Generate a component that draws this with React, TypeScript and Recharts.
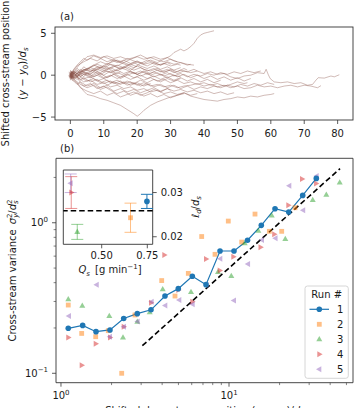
import React from 'react';
import {
  Line,
  XAxis,
  YAxis,
  ComposedChart,
  Scatter,
  ReferenceArea,
  ReferenceLine,
  ErrorBar,
} from 'recharts';

const FONT = '"DejaVu Sans", sans-serif';
const INK = '#1a1a1a';
const FRAME = '#333333';
const BLUE = '#1f77b4';
const ORANGE = '#ff7f0e';
const GREEN = '#2ca02c';
const RED = '#d62728';
const PURPLE = '#9467bd';
const BROWN = '#8c564b';

type Pt = [number, number];

// ---- panel (a): individual grain trajectories, (x - x0)/ds vs (y - y0)/ds ----
const track01: Pt[] = [[-0.3,0.2],[0.5,-0.3],[1,0.3],[2,-0.2],[4,0.4],[6,0.1],[8,0.7],[10,0.4],[12,0.9],[14,0.5],[16,1.0],[18,0.6],[20,1.1],[22,0.7],[24,0.5],[26,0.8],[28,0.4],[30,0.6],[32,0.2],[34,0.5],[36,0.3],[38,0.5],[40,0.2],[42,0.4],[44,0.1],[46,0.2],[48,-0.2],[50,-0.4],[52,-0.1],[54,0.0],[56,0.3],[58,0.2],[58.6,0.7],[59.2,0.1],[59.8,-0.4],[61,-0.8],[63,-0.9],[65,-0.8],[67,-1.0],[69,-0.9],[71,-1.2],[72.5,-1.1],[73.5,-0.6],[74.2,-0.3],[76,-0.35],[78,-0.1],[79,-0.2],[80.5,0.05]];
const track02: Pt[] = [[0,0.4],[0.6,-0.2],[1,-0.3],[2,0.1],[4,-0.4],[6,-0.2],[8,-0.7],[10,-0.4],[12,-0.9],[14,-0.6],[16,-1.0],[18,-0.8],[20,-1.2],[22,-0.9],[24,-1.3],[26,-1.1],[28,-1.4],[30,-1.2],[32,-1.5],[34,-1.3],[36,-1.2],[38,-1.0],[40,-1.3],[42,-1.1],[44,-1.4],[46,-1.2],[48,-1.5],[50,-1.3],[52,-1.6],[54,-1.5],[56,-1.2],[58,-1.4],[60,-1.3],[62,-1.5],[64,-1.3],[66,-1.2],[68,-1.4],[70,-1.2],[72,-1.3],[74,-1.5],[75,-1.25]];
const track03: Pt[] = [[0,-0.3],[0.5,0.1],[1,-0.4],[2,-0.2],[4,-0.8],[6,-0.6],[8,-1.1],[10,-0.9],[12,-1.4],[14,-1.2],[16,-1.6],[18,-1.4],[20,-1.8],[22,-1.6],[24,-2.0],[26,-1.8],[28,-2.2],[30,-2.0],[32,-2.3],[34,-2.1],[36,-2.5],[38,-2.7],[40,-2.9],[42,-3.0],[44,-3.1],[46,-2.9],[48,-2.8],[50,-2.6],[52,-2.7],[54,-2.5],[56,-2.6],[58,-2.4],[60,-2.3],[61,-2.2]];
const track04: Pt[] = [[-0.4,-0.2],[0.3,0.3],[1,0.2],[2,-0.1],[4,0.3],[6,-0.2],[8,0.2],[10,-0.3],[12,0.0],[14,-0.4],[16,-0.1],[18,-0.5],[20,-0.2],[22,-0.6],[24,-0.3],[26,-0.7],[28,-0.5],[30,-0.9],[32,-0.6],[34,-1.0],[36,-0.8],[38,-1.1],[40,-0.9],[42,-1.2],[44,-1.0],[46,-1.3],[48,-1.1],[50,-0.8],[52,-1.0],[53,-0.9]];
const track05: Pt[] = [[0,-0.2],[0.5,0.3],[1,0.4],[2,0.2],[4,0.7],[6,0.5],[8,1.0],[10,0.8],[12,1.3],[14,1.1],[16,1.5],[18,1.2],[20,1.6],[22,1.4],[24,1.8],[26,1.5],[28,1.9],[30,2.3],[31,2.7],[32,2.9],[33,3.1],[34,2.9],[35,3.1],[36,3.4],[37,3.8],[38,4.4],[39,4.8],[40,5.0],[41,5.1],[42,5.2],[43,5.3]];
const track06: Pt[] = [[0,0.6],[0.5,0.2],[1,0.5],[2,0.9],[3,1.4],[4,1.8],[5,2.2],[7,2.4],[9,2.1],[11,2.3],[13,2.0],[15,2.2],[17,1.9],[19,2.1],[21,2.4],[23,2.0],[25,2.2],[27,1.9],[29,2.1],[31,1.7],[33,1.5],[35,1.3],[37,1.2]];
const track07: Pt[] = [[0,0.2],[0.5,-0.3],[1,-0.5],[2,-0.9],[3,-1.4],[4,-1.9],[5,-2.3],[7,-2.5],[9,-2.8],[11,-3.0],[13,-3.3],[15,-3.6],[17,-4.1],[19,-4.6],[20,-4.9],[21,-4.6],[22,-4.2],[24,-3.6],[26,-3.2],[28,-2.9],[30,-2.6],[32,-2.4],[34,-2.2]];
const track08: Pt[] = [[-0.2,-0.4],[0.4,0.2],[1,0.6],[2,1.1],[4,1.6],[6,2.0],[8,1.7],[10,2.2],[12,1.9],[14,1.5],[16,1.8],[18,1.4],[20,1.7],[22,1.3],[24,1.5],[26,1.2],[28,1.4],[30,1.1],[32,1.3],[33,1.2]];
const track09: Pt[] = [[0,0.1],[0.5,0.5],[1,-0.3],[2,0.2],[4,0.5],[6,0.9],[8,1.3],[10,1.0],[12,1.5],[14,1.8],[16,1.5],[18,1.9],[20,2.2],[22,1.9],[24,2.1],[26,1.8],[28,1.6],[30,1.9],[32,1.6]];
const track10: Pt[] = [[-0.5,0.0],[0.2,-0.4],[1,0.3],[2,-0.2],[3,0.4],[5,0.8],[7,0.5],[9,1.0],[11,0.7],[13,1.1],[15,0.8],[17,1.2],[19,0.9],[21,1.4],[23,1.1],[25,1.5],[27,1.2],[29,1.6],[31,1.3],[33,1.5],[35,1.2],[36,1.3]];
const track11: Pt[] = [[0,-0.5],[0.5,0.1],[1,-0.2],[2,0.3],[3,-0.1],[5,0.3],[7,-0.2],[9,0.2],[11,-0.3],[13,0.1],[15,-0.4],[17,0.0],[19,0.3],[21,-0.1],[23,0.2],[25,-0.2],[27,0.1],[29,-0.3],[31,0.0],[33,-0.2]];
const track12: Pt[] = [[0,0.3],[0.5,-0.1],[1,-0.4],[2,-0.8],[3,-1.1],[5,-1.5],[7,-1.2],[9,-1.7],[11,-1.4],[13,-1.9],[15,-1.6],[17,-2.0],[19,-1.7],[21,-2.1],[23,-1.8],[25,-1.5],[27,-1.9],[29,-1.6],[31,-1.9],[33,-1.7],[35,-2.0],[37,-1.8],[39,-2.1],[41,-1.9],[43,-2.2],[45,-2.0],[47,-2.3],[49,-2.1]];
const track13: Pt[] = [[-0.3,-0.3],[0.4,0.4],[1,0.2],[2,0.6],[3,0.3],[5,0.8],[7,1.2],[9,0.9],[11,1.4],[13,1.1],[15,0.7],[17,1.0],[19,0.6],[21,0.9],[23,0.5],[25,0.8],[27,0.4],[29,0.7],[31,0.3],[33,0.6],[35,0.4],[37,0.7],[38,0.5]];
const track14: Pt[] = [[0,0.0],[0.5,-0.5],[1,-0.6],[2,-1.0],[3,-1.5],[5,-1.9],[7,-2.2],[9,-1.9],[11,-2.4],[13,-2.1],[15,-2.6],[17,-2.3],[19,-2.0],[21,-2.4],[23,-2.1],[25,-1.7],[27,-2.0],[29,-1.6],[30,-1.8]];
const track15: Pt[] = [[0,0.5],[0.5,0.0],[1,0.4],[2,0.1],[3,0.5],[5,0.2],[7,0.6],[9,0.3],[11,0.8],[13,0.5],[15,0.9],[17,0.6],[19,0.2],[21,0.5],[23,0.1],[25,0.4],[27,0.0],[29,0.3],[31,-0.1],[33,0.2],[35,-0.2],[37,0.1],[39,-0.1],[41,0.2],[43,0.0],[45,0.3],[47,0.1],[49,0.4],[51,0.2],[53,0.5],[55,0.3],[57,0.5]];
const track16: Pt[] = [[0,-0.6],[0.5,-0.1],[1,-0.2],[2,-0.5],[3,-0.3],[5,-0.7],[7,-0.4],[9,-0.9],[11,-0.6],[13,-1.0],[15,-0.7],[17,-1.2],[19,-0.9],[21,-1.3],[23,-1.0],[25,-1.4],[27,-1.1],[29,-1.5],[31,-1.2],[33,-1.6],[35,-1.3],[37,-1.7],[39,-1.4],[41,-1.6],[43,-1.3],[45,-1.5],[47,-1.2],[49,-1.4],[51,-1.1],[53,-1.3],[55,-1.0],[57,-1.2],[59,-0.9],[61,-1.1]];
const track17: Pt[] = [[-0.4,0.4],[0.3,-0.2],[1,0.5],[2,0.2],[3,0.7],[4,0.4],[6,0.9],[8,0.6],[10,1.1],[12,0.8],[14,1.2],[16,0.9],[18,1.3],[20,1.0]];
const track18: Pt[] = [[0,0.2],[0.5,-0.4],[1,-0.3],[2,-0.1],[3,-0.6],[4,-0.3],[6,-0.8],[8,-0.5],[10,-1.0],[12,-0.7],[14,-1.1],[16,-0.8],[18,-1.2],[20,-0.9],[22,-1.3],[24,-1.0]];
const track19: Pt[] = [[0,0],[0.5,0.3],[1,-0.1],[2,0.2],[3,-0.2],[4,0.1],[6,-0.3],[8,0.0],[10,-0.4],[12,-0.1],[14,0.3],[16,0.0],[18,0.4],[20,0.1],[22,0.5],[24,0.2],[26,0.6],[28,0.3],[30,0.7],[32,0.4],[34,0.8],[35,0.6]];
const track20: Pt[] = [[0,0],[0.5,-0.3],[1,0.2],[2,-0.1],[3,0.3],[5,0.0],[7,0.4],[9,0.1],[11,0.5],[13,0.2],[15,-0.2],[17,0.1],[19,-0.3],[21,0.0],[23,-0.4],[25,-0.1],[27,-0.5],[29,-0.2],[31,-0.6],[33,-0.3],[35,-0.7],[37,-0.4],[39,-0.8],[41,-0.5],[43,-0.9],[45,-0.6]];
const track21: Pt[] = [[0,-0.1],[0.5,0.4],[1,0.7],[2,1.2],[3,1.6],[4,2.0],[5,1.8],[7,2.3],[9,2.0],[11,1.6],[13,1.9],[15,1.5],[17,1.2],[19,1.5],[21,1.1],[23,0.8],[25,1.1],[27,0.7],[29,1.0],[31,0.6],[33,0.9]];
const track22: Pt[] = [[-0.3,0.1],[0.5,-0.6],[1,-0.7],[2,-1.1],[3,-0.8],[5,-1.3],[7,-1.0],[9,-1.5],[11,-1.2],[13,-0.8],[15,-1.1],[17,-0.7],[19,-1.0],[21,-0.6],[23,-0.9],[25,-0.5],[27,-0.8],[29,-0.4],[31,-0.7],[33,-0.4]];
const track23: Pt[] = [[0,0],[0.5,0.4],[1,0.1],[2,0.5],[3,0.2],[4,0.7],[6,0.4],[8,0.9],[10,0.6],[12,0.3],[14,0.6],[16,0.2],[18,0.5],[20,0.1],[22,0.4],[24,0.0],[26,0.3],[28,-0.1],[30,0.2],[32,-0.2],[34,0.1],[36,-0.3],[38,0.0],[40,-0.4],[42,-0.1],[44,-0.5],[46,-0.2],[48,-0.6],[50,-0.3],[52,-0.7],[54,-0.4]];
const track24: Pt[] = [[0,0],[0.5,-0.4],[1,0.1],[2,-0.3],[3,0.2],[4,-0.2],[5,0.3],[6,-0.1],[8,0.4],[10,0.0],[12,0.5],[14,0.2],[15,0.4]];
const track25: Pt[] = [[0,0.3],[0.5,-0.2],[1,-0.5],[2,-0.2],[3,-0.9],[4,-1.3],[6,-1.0],[8,-1.6],[10,-1.3],[12,-1.8],[14,-2.2],[16,-1.9],[18,-2.4],[20,-2.1],[22,-2.5],[24,-2.2],[26,-2.6],[28,-2.3],[30,-2.7],[32,-2.4],[34,-2.1],[36,-2.4],[38,-2.2]];
const track26: Pt[] = [[0,-0.3],[0.5,0.1],[1,0.3],[2,0.8],[3,0.5],[4,1.0],[5,0.7],[7,1.2],[9,1.6],[11,1.3],[13,1.8],[15,1.5],[17,2.0],[19,1.7],[21,1.4],[23,1.8],[25,1.5],[27,1.2],[29,1.5],[30,1.3]];

const tracks: Pt[][] = [
  track01, track02, track03, track04, track05, track06, track07, track08, track09,
  track10, track11, track12, track13, track14, track15, track16, track17, track18,
  track19, track20, track21, track22, track23, track24, track25, track26,
];

const xTicksA = [0, 10, 20, 30, 40, 50, 60, 70, 80];
const yTicksA = [-5, 0, 5];

// ---- panel (b): cross-stream variance vs downstream distance, five runs ----
const run1: Pt[] = [[1.105,0.199],[1.346,0.208],[1.616,0.189],[1.957,0.194],[2.362,0.231],[2.846,0.249],[3.434,0.264],[4.159,0.326],[4.992,0.365],[6.048,0.441],[7.297,0.388],[8.842,0.649],[10.71,0.649],[12.89,0.765],[15.57,0.961],[18.79,1.239],[22.67,1.178],[27.46,1.52],[33.09,1.971]];
const run2: Pt[] = [[1.105,0.284],[1.328,0.184],[1.609,0.175],[1.912,0.192],[2.298,0.1],[2.757,0.244],[3.976,0.413],[4.771,0.326],[5.725,0.461],[6.878,0.81],[8.255,0.617],[9.904,1.026],[11.9,0.744],[14.28,1.142],[17.38,0.877],[20.59,0.877],[24.71,1.258]];
const run3: Pt[] = [[1.105,0.31],[1.339,0.281],[1.939,0.24],[2.339,0.173],[2.846,0.22],[3.373,0.254],[4.031,0.361],[5.941,0.347],[8.6,0.471],[10.32,0.443],[12.4,0.73],[14.94,0.885],[17.96,1.116],[21.63,0.779],[31.5,1.415],[37.95,1.535],[45.6,1.849]];
const run4: Pt[] = [[1.105,0.173],[1.328,0.113],[1.609,0.157],[1.957,0.173],[2.362,0.204],[3.434,0.294],[4.12,0.61],[4.992,0.357],[6.048,0.299],[7.297,0.574],[8.805,0.482],[10.61,0.594],[15.4,0.687],[18.58,0.838],[22.54,1.307],[27.2,1.951],[32.96,1.821]];
const run5: Pt[] = [[1.116,0.24],[1.632,0.388],[1.957,0.175],[2.371,0.204],[2.861,0.221],[3.467,0.299],[4.177,0.282],[5.061,0.307],[6.081,0.287],[7.368,0.386],[8.879,0.577],[10.71,0.304],[12.98,0.532],[15.72,0.768],[18.92,0.788],[22.86,1.758],[27.65,1.211],[33.27,2.048]];

// diffusive reference: variance = 0.05 * distance
const diffusiveLine: Pt[] = [[3.05, 0.1525], [45.8, 2.29]];

const xTicksB = [1, 2, 3, 4, 5, 6, 7, 8, 9, 10, 20, 30, 40, 50];
const yTicksB = [0.1, 0.2, 0.3, 0.4, 0.5, 0.6, 0.7, 0.8, 0.9, 1, 2];

// ---- inset: diffusion length vs sediment feed rate ----
const insetQs = [0.748, 0.658, 0.366, 0.333, 0.33];
const insetLd = [0.028, 0.0243, 0.0211, 0.03, 0.0321];
const insetErr = [0.0016, 0.0033, 0.0017, 0.0036, 0.0021];
const insetMean = 0.0259;
const xTicksInset = [0.5, 0.75];
const yTicksInset = [0.02, 0.03];

const runLabels = ['1', '2', '3', '4', '5'];

const toXY = (pts: Pt[]) => pts.map(([x, y]) => ({ x, y }));

// ---- markers ----
type MarkerKind = 'circle' | 'square' | 'up' | 'right' | 'left';
function Marker({ kind, cx, cy, color, opacity }: { kind: MarkerKind; cx: number; cy: number; color: string; opacity: number }) {
  if (kind === 'circle') return <circle cx={cx} cy={cy} r={2.8} fill={color} fillOpacity={opacity} />;
  if (kind === 'square') return <rect x={cx - 2.4} y={cy - 2.4} width={4.8} height={4.8} fill={color} fillOpacity={opacity} />;
  let pts = '';
  if (kind === 'up') pts = `${cx},${cy - 3.3} ${cx - 3},${cy + 2} ${cx + 3},${cy + 2}`;
  if (kind === 'right') pts = `${cx + 3.3},${cy} ${cx - 2},${cy - 3} ${cx - 2},${cy + 3}`;
  if (kind === 'left') pts = `${cx - 3.3},${cy} ${cx + 2},${cy - 3} ${cx + 2},${cy + 3}`;
  return <polygon points={pts} fill={color} fillOpacity={opacity} />;
}

const runStyles: { color: string; kind: MarkerKind; opacity: number }[] = [
  { color: BLUE, kind: 'circle', opacity: 1 },
  { color: ORANGE, kind: 'square', opacity: 0.5 },
  { color: GREEN, kind: 'up', opacity: 0.5 },
  { color: RED, kind: 'right', opacity: 0.5 },
  { color: PURPLE, kind: 'left', opacity: 0.5 },
];

const shapeFor = (i: number) => (p: any) => (
  <Marker kind={runStyles[i].kind} cx={p.cx} cy={p.cy} color={runStyles[i].color} opacity={runStyles[i].opacity} />
);

// ---- ticks ----
const tickText = { fontFamily: FONT, fontSize: 10, fill: INK };
const fmtSigned = (v: number) => (v < 0 ? `\u2212${Math.abs(v)}` : `${v}`);
const isDecade = (v: number) => Math.abs(Math.log10(v) - Math.round(Math.log10(v))) < 1e-9;

function LinXTick(props: any) {
  const { x, y, payload } = props;
  return (
    <g>
      <line x1={x} x2={x} y1={y} y2={y + 4} stroke={FRAME} strokeWidth={0.8} />
      <text x={x} y={y + 16.7} textAnchor="middle" {...tickText}>{fmtSigned(payload.value)}</text>
    </g>
  );
}

function LinYTick(props: any) {
  const { x, y, payload } = props;
  return (
    <g>
      <line x1={x - 4} x2={x} y1={y} y2={y} stroke={FRAME} strokeWidth={0.8} />
      <text x={x - 8.5} y={y + 3.6} textAnchor="end" {...tickText}>{fmtSigned(payload.value)}</text>
    </g>
  );
}

function Pow10({ v }: { v: number }) {
  const e = Math.round(Math.log10(v));
  return (
    <>
      10<tspan dy={-4.5} fontSize={7}>{e < 0 ? `\u2212${-e}` : `${e}`}</tspan>
    </>
  );
}

function LogXTick(props: any) {
  const { x, y, payload } = props;
  const major = isDecade(payload.value);
  return (
    <g>
      <line x1={x} x2={x} y1={y} y2={y + (major ? 4 : 2.4)} stroke={FRAME} strokeWidth={major ? 0.8 : 0.6} />
      {major && (
        <text x={x} y={y + 16.6} textAnchor="middle" {...tickText}>
          <Pow10 v={payload.value} />
        </text>
      )}
    </g>
  );
}

function LogYTick(props: any) {
  const { x, y, payload } = props;
  const major = isDecade(payload.value);
  return (
    <g>
      <line x1={x - (major ? 4 : 2.4)} x2={x} y1={y} y2={y} stroke={FRAME} strokeWidth={major ? 0.8 : 0.6} />
      {major && (
        <text x={x - 8} y={y + 3.6} textAnchor="end" {...tickText}>
          <Pow10 v={payload.value} />
        </text>
      )}
    </g>
  );
}

function InsetXTick(props: any) {
  const { x, y, payload } = props;
  return (
    <g>
      <line x1={x} x2={x} y1={y} y2={y + 4} stroke={FRAME} strokeWidth={0.8} />
      <text x={x} y={y + 15} textAnchor="middle" {...tickText}>{payload.value.toFixed(2)}</text>
    </g>
  );
}

function InsetYTick(props: any) {
  const { x, y, payload } = props;
  return (
    <g>
      <line x1={x} x2={x + 4} y1={y} y2={y} stroke={FRAME} strokeWidth={0.8} />
      <text x={x + 8} y={y + 3.6} textAnchor="start" {...tickText}>{payload.value.toFixed(2)}</text>
    </g>
  );
}

// ---- layout constants ----
const A_DOMAIN_X: [number, number] = [-4.6, 84.6];
const A_DOMAIN_Y: [number, number] = [-5.35, 5.75];
const B_DOMAIN_X: [number, number] = [0.934, 54.7];
const B_DOMAIN_Y: [number, number] = [0.0866, 2.68];
const I_DOMAIN_X: [number, number] = [0.2895, 0.7796];
const I_DOMAIN_Y: [number, number] = [0.01829, 0.0351];

// panel (a) chart geometry
const A_MARGIN = { top: 27, right: 2, bottom: 0, left: 25 };
const A_YAXIS_W = 30;
const A_XAXIS_H = 20;
const A_W = 355;
const A_H = 140;
const A_BOX = {
  x: A_MARGIN.left + A_YAXIS_W,
  y: A_MARGIN.top,
  w: A_W - A_MARGIN.right - (A_MARGIN.left + A_YAXIS_W),
  h: A_H - A_MARGIN.bottom - A_XAXIS_H - A_MARGIN.top,
};

function PanelA() {
  return (
    <ComposedChart width={A_W} height={A_H} margin={A_MARGIN}>
      <XAxis
        type="number"
        dataKey="x"
        domain={A_DOMAIN_X}
        allowDataOverflow
        ticks={xTicksA}
        interval={0}
        tick={<LinXTick />}
        tickSize={0}
        tickMargin={0}
        tickLine={false}
        axisLine={false}
        height={A_XAXIS_H}
      />
      <YAxis
        type="number"
        domain={A_DOMAIN_Y}
        allowDataOverflow
        ticks={yTicksA}
        interval={0}
        tick={<LinYTick />}
        tickSize={0}
        tickMargin={0}
        tickLine={false}
        axisLine={false}
        width={A_YAXIS_W}
      />
      {tracks.map((t, i) => (
        <Line
          key={`track-${i}`}
          data={toXY(t)}
          dataKey="y"
          type="linear"
          stroke={BROWN}
          strokeOpacity={0.5}
          strokeWidth={0.8}
          dot={false}
          activeDot={false}
          isAnimationActive={false}
        />
      ))}
    </ComposedChart>
  );
}

function PanelB() {
  const scatterRuns = [run2, run3, run4, run5];
  return (
    <ComposedChart width={355} height={278} margin={{ top: 28.3, right: 2, bottom: 0, left: 26 }}>
      <XAxis
        type="number"
        dataKey="x"
        scale="log"
        domain={B_DOMAIN_X}
        allowDataOverflow
        ticks={xTicksB}
        interval={0}
        tick={<LogXTick />}
        tickSize={0}
        tickMargin={0}
        tickLine={false}
        axisLine={false}
        height={25.3}
      />
      <YAxis
        type="number"
        scale="log"
        domain={B_DOMAIN_Y}
        allowDataOverflow
        ticks={yTicksB}
        interval={0}
        tick={<LogYTick />}
        tickSize={0}
        tickMargin={0}
        tickLine={false}
        axisLine={false}
        width={30}
      />
      {scatterRuns.map((r, i) => (
        <Scatter
          key={`run-${i + 2}`}
          data={toXY(r)}
          dataKey="y"
          shape={shapeFor(i + 1)}
          isAnimationActive={false}
        />
      ))}
      <ReferenceLine
        segment={toXY(diffusiveLine)}
        stroke="#000"
        strokeWidth={1.6}
        strokeDasharray="5.5 3"
        ifOverflow="visible"
      />
      <Line
        data={toXY(run1)}
        dataKey="y"
        type="linear"
        stroke={BLUE}
        strokeWidth={1.2}
        dot={(p: any) => <circle key={`d-${p.index}`} cx={p.cx} cy={p.cy} r={2.8} fill={BLUE} />}
        activeDot={false}
        isAnimationActive={false}
      />
      <ReferenceArea
        x1={B_DOMAIN_X[0]}
        x2={B_DOMAIN_X[1]}
        y1={B_DOMAIN_Y[0]}
        y2={B_DOMAIN_Y[1]}
        fill="none"
        stroke={FRAME}
        strokeWidth={0.9}
        ifOverflow="visible"
      />
    </ComposedChart>
  );
}

function Inset() {
  return (
    <ComposedChart width={160} height={125} margin={{ top: 10, right: 27.3, bottom: 0, left: 13.3 }}>
      <XAxis
        type="number"
        dataKey="x"
        domain={I_DOMAIN_X}
        allowDataOverflow
        ticks={xTicksInset}
        interval={0}
        tick={<InsetXTick />}
        tickSize={0}
        tickMargin={0}
        tickLine={false}
        axisLine={false}
        height={40.7}
      />
      <YAxis
        type="number"
        orientation="right"
        domain={I_DOMAIN_Y}
        allowDataOverflow
        ticks={yTicksInset}
        interval={0}
        tick={<InsetYTick />}
        tickSize={0}
        tickMargin={0}
        tickLine={false}
        axisLine={false}
        width={30}
      />
      <ReferenceArea
        x1={I_DOMAIN_X[0]}
        x2={I_DOMAIN_X[1]}
        y1={I_DOMAIN_Y[0]}
        y2={I_DOMAIN_Y[1]}
        fill="#ffffff"
        fillOpacity={1}
        stroke={FRAME}
        strokeWidth={0.9}
        ifOverflow="visible"
      />
      <ReferenceLine y={insetMean} stroke="#000" strokeWidth={1.5} strokeDasharray="5.5 3" />
      {insetQs.map((q, i) => (
        <Scatter
          key={`inset-${i}`}
          data={[{ x: q, y: insetLd[i], err: insetErr[i] }]}
          dataKey="y"
          shape={shapeFor(i)}
          isAnimationActive={false}
        >
          <ErrorBar
            dataKey="err"
            direction="y"
            width={6}
            stroke={runStyles[i].color}
            strokeOpacity={runStyles[i].opacity}
            strokeWidth={1}
            isAnimationActive={false}
          />
        </Scatter>
      ))}
    </ComposedChart>
  );
}

const labelText = { fontFamily: FONT, fontSize: 10, fill: INK };

function Annotations() {
  const sub = { fontSize: 7 };
  return (
    <svg width={355} height={408} style={{ position: 'absolute', left: 0, top: 0, pointerEvents: 'none' }}>
      {/* spine box of panel (a) */}
      <rect x={A_BOX.x} y={A_BOX.y} width={A_BOX.w} height={A_BOX.h} fill="none" stroke={FRAME} strokeWidth={0.9} />

      <text x={60} y={19.5} {...labelText}>(a)</text>
      <text x={60} y={152} {...labelText}>(b)</text>

      {/* panel (a) y label */}
      <g transform="translate(8.5,73.5) rotate(-90)">
        <text x={0} y={0} textAnchor="middle" {...labelText}>Shifted cross-stream position</text>
      </g>
      <g transform="translate(25.5,73.5) rotate(-90)">
        <text x={0} y={0} textAnchor="middle" {...labelText}>
          (<tspan fontStyle="italic">y</tspan> {'\u2212'} <tspan fontStyle="italic">y</tspan>
          <tspan dy={2.5} {...sub}>0</tspan>
          <tspan dy={-2.5}>)/</tspan>
          <tspan fontStyle="italic">d</tspan>
          <tspan dy={2.5} {...sub} fontStyle="italic">s</tspan>
        </text>
      </g>

      {/* panel (b) y label */}
      <g transform="translate(15.8,270.5) rotate(-90)">
        <text x={0} y={0} textAnchor="middle" {...labelText}>
          Cross-stream variance{'\u2002'}
          <tspan fontStyle="italic">σ</tspan>
          <tspan dy={-4} {...sub}>2</tspan>
          <tspan dx={-4.4} dy={6.5} {...sub} fontStyle="italic">y</tspan>
          <tspan dy={-2.5}>/</tspan>
          <tspan fontStyle="italic">d</tspan>
          <tspan dy={-4} {...sub}>2</tspan>
          <tspan dx={-4.4} dy={6.5} {...sub} fontStyle="italic">s</tspan>
        </text>
      </g>

      {/* panel (b) x label, running off the lower edge */}
      <text x={204.5} y={414} textAnchor="middle" {...labelText}>
        Shifted downstream position (<tspan fontStyle="italic">x</tspan> {'\u2212'} <tspan fontStyle="italic">x</tspan>
        <tspan dy={2.5} {...sub}>0</tspan>
        <tspan dy={-2.5}>)/</tspan>
        <tspan fontStyle="italic">d</tspan>
        <tspan dy={2.5} {...sub} fontStyle="italic">s</tspan>
      </text>

      {/* inset labels */}
      <text x={110} y={273} textAnchor="middle" {...labelText}>
        <tspan fontStyle="italic">Q</tspan>
        <tspan dy={2.5} {...sub} fontStyle="italic">s</tspan>
        <tspan dy={-2.5}>{'\u2002'}[g min</tspan>
        <tspan dy={-4} {...sub}>{'\u2212'}1</tspan>
        <tspan dy={4}>]</tspan>
      </text>
      <g transform="translate(198.5,207) rotate(-90)">
        <text x={0} y={0} textAnchor="middle" {...labelText}>
          <tspan fontStyle="italic">ℓ</tspan>
          <tspan dy={2.5} {...sub} fontStyle="italic">d</tspan>
          <tspan dy={-2.5}>/</tspan>
          <tspan fontStyle="italic">d</tspan>
          <tspan dy={2.5} {...sub} fontStyle="italic">s</tspan>
        </text>
      </g>

      {/* legend */}
      <rect x={305} y={286} width={43.3} height={92.3} rx={2.5} fill="#ffffff" fillOpacity={0.8} stroke="#cccccc" strokeWidth={0.8} />
      <text x={326.7} y={298} textAnchor="middle" {...labelText}>Run #</text>
      {runLabels.map((lab, i) => {
        const cy = 309.3 + i * 15;
        const st = runStyles[i];
        return (
          <g key={`leg-${lab}`}>
            {i === 0 && <line x1={309.5} x2={329} y1={cy} y2={cy} stroke={BLUE} strokeWidth={1.2} />}
            <Marker kind={st.kind} cx={319.3} cy={cy} color={st.color} opacity={st.opacity} />
            <text x={337} y={cy + 3.6} {...labelText}>{lab}</text>
          </g>
        );
      })}
    </svg>
  );
}

export default function App() {
  return (
    <div style={{ position: 'absolute', left: 0, top: 0, width: 355, height: 408, background: '#ffffff', overflow: 'hidden' }}>
      <div style={{ position: 'absolute', left: 0, top: 0 }}>
        <PanelA />
      </div>
      <div style={{ position: 'absolute', left: 0, top: 130 }}>
        <PanelB />
      </div>
      <div style={{ position: 'absolute', left: 50, top: 160 }}>
        <Inset />
      </div>
      <Annotations />
    </div>
  );
}
